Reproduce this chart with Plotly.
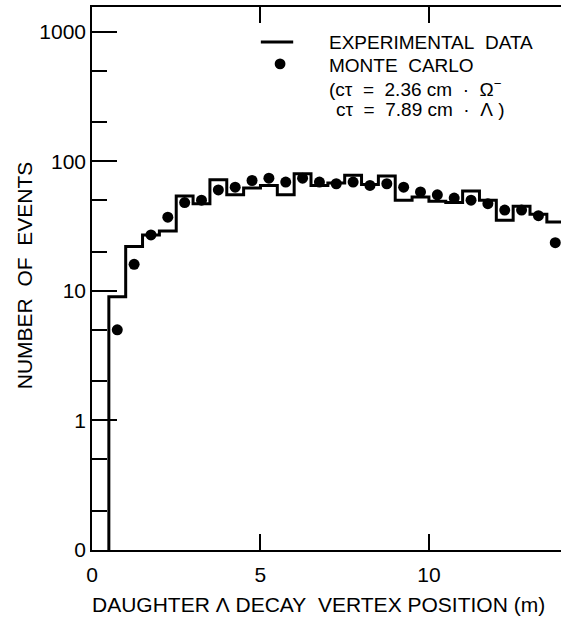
import plotly.graph_objects as go

# Histogram bin edges (m) of the daughter Lambda decay vertex position
bin_edges = [0.5, 1.0, 1.5, 2.0, 2.5, 3.0, 3.5, 4.0, 4.5, 5.0, 5.5, 6.0, 6.5,
             7.0, 7.5, 8.0, 8.5, 9.0, 9.5, 10.0, 10.5, 11.0, 11.5, 12.0, 12.5,
             13.0, 13.5, 14.0]

# Observed number of events in each bin
exp_counts = [9, 22, 27, 29, 54, 47, 72, 55, 62, 65, 55, 80, 65, 68, 78, 66,
              77, 50, 53, 49, 48, 59, 50, 35, 45, 39, 34]

# Monte Carlo expectation at the bin centres
mc_positions = [0.75, 1.25, 1.75, 2.25, 2.75, 3.25, 3.75, 4.25, 4.75, 5.25,
                5.75, 6.25, 6.75, 7.25, 7.75, 8.25, 8.75, 9.25, 9.75, 10.25,
                10.75, 11.25, 11.75, 12.25, 12.75, 13.25, 13.75]
mc_counts = [5, 16, 27, 37, 48, 50, 60, 63, 71, 74, 69, 74, 69, 67, 69, 65,
             67, 63, 58, 55, 52, 50, 47, 42, 42, 38, 23.5]

# Log axis: the lowest decade line is labelled "0"
y_zero = 0.1
y_tick_values = [0.1, 1, 10, 100, 1000]
y_tick_labels = ["0", "1", "10", "100", "1000"]
y_minor_values = [0.2, 0.5, 2, 5, 20, 50, 200, 500]
x_tick_values = [0, 5, 10]
x_tick_labels = ["0", "5", "10"]

FONT = "Liberation Sans"
INK = "black"
SP = "\u00a0"  # non-breaking space keeps the wide word gaps of the lettering
SP2 = SP * 2

# Step outline of the histogram, rising from zero at the first edge
step_x = [bin_edges[0]] + bin_edges[:-1] + [bin_edges[-1]]
step_y = [y_zero] + exp_counts + [exp_counts[-1]]

fig = go.Figure()
fig.add_trace(go.Scatter(
    x=step_x, y=step_y, mode="lines", line_shape="hv",
    line=dict(color=INK, width=3), showlegend=False,
))
fig.add_trace(go.Scatter(
    x=mc_positions, y=mc_counts, mode="markers",
    marker=dict(color=INK, size=11, line=dict(width=0)), showlegend=False,
))

fig.update_layout(
    width=561, height=622,
    margin=dict(l=92, r=0, t=7, b=72),
    paper_bgcolor="white", plot_bgcolor="white",
    font=dict(family=FONT, color=INK),
    xaxis=dict(
        range=[0, 13.92], showgrid=False, zeroline=False,
        showline=True, linecolor=INK, linewidth=1.5, mirror="ticks",
        ticks="inside", ticklen=16, tickwidth=1.5, tickcolor=INK,
        tickmode="array", tickvals=x_tick_values, ticktext=x_tick_labels,
        tickfont=dict(size=21), ticklabelstandoff=5,
    ),
    yaxis=dict(
        type="log", range=[-1, 3.19], showgrid=False, zeroline=False,
        showline=True, linecolor=INK, linewidth=1.5,
        ticks="inside", ticklen=25, tickwidth=1.5, tickcolor=INK,
        tickmode="array", tickvals=y_tick_values, ticktext=y_tick_labels,
        tickfont=dict(size=21),
        minor=dict(tickmode="array", tickvals=y_minor_values, ticks="inside",
                   ticklen=15, tickwidth=1.5, tickcolor=INK, showgrid=False),
    ),
    yaxis2=dict(
        type="log", range=[-1, 3.19], overlaying="y", side="right",
        anchor="x", showgrid=False, zeroline=False,
        showline=True, linecolor=INK, linewidth=1.5,
        ticks="inside", ticklen=18, tickwidth=1.5, tickcolor=INK,
        tickmode="array", tickvals=y_tick_values, showticklabels=False,
        minor=dict(tickmode="array", tickvals=y_minor_values, ticks="inside",
                   ticklen=11, tickwidth=1.5, tickcolor=INK, showgrid=False),
    ),
)

# Axis titles
fig.add_annotation(
    text=f"DAUGHTER{SP}Λ{SP}DECAY{SP2}VERTEX{SP}POSITION{SP}(m)",
    xref="paper", yref="paper",
    x=0.482, y=-0.101, xanchor="center", yanchor="middle", showarrow=False,
    font=dict(size=21),
)
fig.add_annotation(
    text=f"NUMBER{SP2}OF{SP2}EVENTS", xref="paper", yref="paper",
    x=-0.145, y=0.506, xanchor="center", yanchor="middle", showarrow=False,
    textangle=-90, font=dict(size=21),
)

# Key: line sample, dot sample and the accompanying text
fig.add_shape(type="line", xref="paper", yref="paper",
              x0=0.360, x1=0.429, y0=0.9355, y1=0.9355,
              line=dict(color=INK, width=3))
fig.add_shape(type="circle", xref="paper", yref="paper",
              x0=0.3895, x1=0.4125, y0=0.8852, y1=0.9052,
              fillcolor=INK, line=dict(width=0))

key_lines = [
    (f"EXPERIMENTAL{SP2}DATA", 0.501, 0.934),
    (f"MONTE{SP2}CARLO", 0.501, 0.892),
    (f"(cτ{SP2}={SP2}2.36{SP}cm{SP2}·{SP2}Ω<sup>−</sup>", 0.501, 0.851),
    (f"cτ{SP2}={SP2}7.89{SP}cm{SP2}·{SP2}Λ{SP})", 0.516, 0.812),
]
for text, kx, ky in key_lines:
    fig.add_annotation(
        text=text, xref="paper", yref="paper", x=kx, y=ky,
        xanchor="left", yanchor="middle", showarrow=False,
        font=dict(size=19),
    )

fig.write_html("out.html")
